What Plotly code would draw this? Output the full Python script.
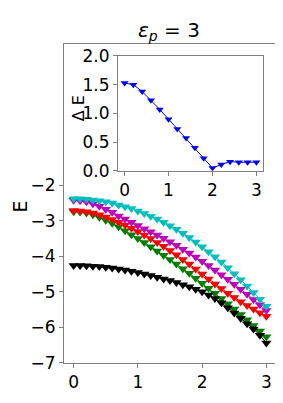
import plotly.graph_objects as go

# ---- data ----
k_main = [round(0.1 * i, 1) for i in range(31)]
E_cyan = [-2.38, -2.38, -2.39, -2.41, -2.43, -2.46, -2.50, -2.55, -2.60, -2.65,
          -2.72, -2.79, -2.87, -2.95, -3.04, -3.14, -3.24, -3.35, -3.47, -3.60,
          -3.73, -3.87, -4.01, -4.16, -4.32, -4.49, -4.66, -4.84, -5.02, -5.21, -5.41]
E_magenta = [-2.42, -2.43, -2.46, -2.52, -2.59, -2.67, -2.76, -2.86, -2.95, -3.04,
             -3.13, -3.22, -3.31, -3.40, -3.49, -3.59, -3.69, -3.80, -3.91, -4.02,
             -4.14, -4.26, -4.39, -4.52, -4.65, -4.79, -4.93, -5.07, -5.22, -5.37, -5.53]
E_red = [-2.71, -2.72, -2.74, -2.78, -2.83, -2.89, -2.96, -3.04, -3.12, -3.21,
         -3.30, -3.40, -3.50, -3.61, -3.72, -3.84, -3.96, -4.09, -4.22, -4.36,
         -4.50, -4.64, -4.78, -4.91, -5.04, -5.16, -5.28, -5.39, -5.49, -5.59, -5.69]
E_green = [-2.74, -2.75, -2.78, -2.83, -2.90, -2.98, -3.07, -3.17, -3.28, -3.39,
           -3.50, -3.61, -3.73, -3.85, -3.97, -4.09, -4.22, -4.35, -4.48, -4.62,
           -4.76, -4.90, -5.04, -5.19, -5.34, -5.49, -5.64, -5.79, -5.95, -6.11, -6.27]
E_black = [-4.26, -4.26, -4.27, -4.28, -4.29, -4.31, -4.33, -4.36, -4.39, -4.42,
           -4.46, -4.50, -4.54, -4.59, -4.64, -4.68, -4.74, -4.80, -4.86, -4.93,
           -5.00, -5.09, -5.19, -5.31, -5.45, -5.60, -5.75, -5.90, -6.05, -6.23, -6.45]

k_inset = [round(0.2 * i, 1) for i in range(16)]
dE = [1.53, 1.50, 1.38, 1.23, 1.07, 0.90, 0.73, 0.57, 0.40, 0.22,
      0.05, 0.11, 0.16, 0.15, 0.15, 0.15]

main_ticks = [-7, -6, -5, -4, -3, -2]
main_ticklabels = ["\u22127", "\u22126", "\u22125", "\u22124", "\u22123", "\u22122"]
main_xticks = [0, 1, 2, 3]
inset_yticks = [0.0, 0.5, 1.0, 1.5, 2.0]
inset_yticklabels = ["0.0", "0.5", "1.0", "1.5", "2.0"]

# page body has an 8px margin: figure occupies window pixels 8..283 / 8..403
OFF = 8
W, H = 283 - OFF, 403 - OFF
FONT = "DejaVu Sans"


def px(x):
    return (x - OFF) / W


def py(y):
    return 1 - (y - OFF) / H


fig = go.Figure()

series = [
    (E_green, "green"),
    (E_black, "black"),
    (E_red, "red"),
    (E_magenta, "#bf00bf"),
    (E_cyan, "#00bfbf"),
]
for ys, col in series:
    fig.add_trace(go.Scatter(
        x=k_main, y=ys, mode="lines+markers",
        line=dict(color=col, width=1),
        marker=dict(symbol="triangle-down", size=9, color=col, line=dict(width=0)),
        xaxis="x", yaxis="y", showlegend=False))

fig.add_trace(go.Scatter(
    x=k_inset, y=dE, mode="lines+markers",
    line=dict(color="blue", width=1),
    marker=dict(symbol="triangle-down", size=7, color="blue", line=dict(width=0)),
    xaxis="x2", yaxis="y2", showlegend=False))

axcommon = dict(showline=True, mirror=True, linecolor="#7f7f7f", linewidth=1,
                ticks="outside", ticklen=4, tickcolor="#7f7f7f", showgrid=False,
                zeroline=False, tickfont=dict(family=FONT, size=17, color="black"))

fig.update_layout(
    width=W, height=H,
    margin=dict(l=0, r=0, t=0, b=0),
    paper_bgcolor="white", plot_bgcolor="white",
    xaxis=dict(domain=[px(64), px(276)], range=[-0.15, 3.15],
               tickvals=main_xticks, anchor="y", **axcommon),
    yaxis=dict(domain=[py(371), py(35)], range=[-7, 2],
               tickvals=main_ticks, ticktext=main_ticklabels,
               anchor="x", **axcommon),
    xaxis2=dict(domain=[px(118), px(263)], range=[-0.15, 3.15],
                tickvals=main_xticks, anchor="y2", **axcommon),
    yaxis2=dict(domain=[py(169), py(48)], range=[0, 2],
                tickvals=inset_yticks, ticktext=inset_yticklabels,
                anchor="x2", **axcommon),
    annotations=[
        dict(text="<i>ε</i><sub><i>p</i></sub> = 3", x=px(169), y=py(22),
             xref="paper", yref="paper", showarrow=False,
             font=dict(family=FONT, size=20, color="black"),
             xanchor="center", yanchor="middle"),
        dict(text="E", x=px(19.5), y=py(207), xref="paper", yref="paper",
             showarrow=False, textangle=-90, borderpad=0,
             font=dict(family=FONT, size=19, color="black"),
             xanchor="center", yanchor="middle"),
        dict(text="Δ E", x=px(78), y=py(103), xref="paper", yref="paper",
             showarrow=False, textangle=-90,
             font=dict(family=FONT, size=16, color="black"),
             xanchor="center", yanchor="middle"),
    ],
)

fig.write_html("out.html")
